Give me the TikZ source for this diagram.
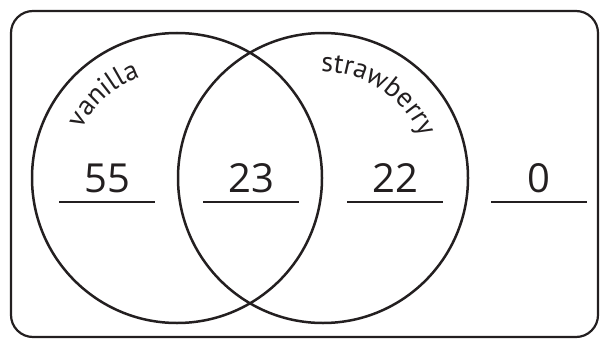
\documentclass[tikz,border=0pt]{standalone}
\usepackage{fontspec}
\setmainfont{PT Sans}
\newfontfamily\digitfont{Open Sans}
\usetikzlibrary{decorations.text}
\definecolor{ink}{HTML}{231F20}
\begin{document}
\begin{tikzpicture}[x=1pt,y=1pt,
  frame/.style={draw=ink, line width=2.2pt, rounded corners=22pt},
  setcircle/.style={circle, draw=ink, line width=2.5pt, minimum size=290pt, inner sep=0pt},
  count/.style={anchor=base, text=ink, font=\digitfont\fontsize{40}{40}\selectfont, inner sep=0pt},
  blank/.style={draw=ink, line width=2.8pt}]
\useasboundingbox (0,0) rectangle (602,341);
\draw[frame] (11,4) rectangle (598,330);
\node[setcircle] (van) at (177,163) {};
\node[setcircle] (str) at (323,163) {};
% labels along arcs
\path[decorate, decoration={text along path, text align=left,
   text={|\fontsize{28}{28}\selectfont\color{ink}|vanilla}}]
   (van.center) ++(153:107) arc[start angle=153, end angle=90, radius=107];
\path[decorate, decoration={text along path, text align=left,
   text={|\fontsize{28}{28}\selectfont\color{ink}|strawberry}}]
   (str.center) ++(91:106) arc[start angle=91, end angle=0, radius=106];
% counts
\node[count] (n1) at (107,149) {55};
\node[count] (n2) at (251,149) {23};
\node[count] (n3) at (395,149) {22};
\node[count] (n4) at (539,149) {0};
\coordinate (a1) at (59,139); \coordinate (b1) at (155,139);
\coordinate (a2) at (203,139); \coordinate (b2) at (299,139);
\coordinate (a3) at (347,139); \coordinate (b3) at (443,139);
\coordinate (a4) at (491,139); \coordinate (b4) at (587,139);
\draw[blank] (a1) -- (b1);
\draw[blank] (a2) -- (b2);
\draw[blank] (a3) -- (b3);
\draw[blank] (a4) -- (b4);
\end{tikzpicture}
\end{document}
